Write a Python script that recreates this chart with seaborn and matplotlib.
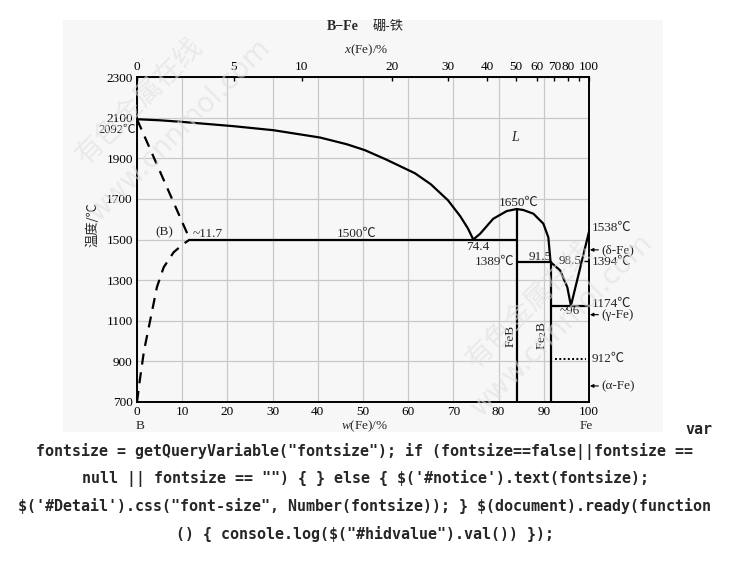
import numpy as np
import pandas as pd
import matplotlib
matplotlib.use("Agg")
import matplotlib.pyplot as plt
from matplotlib.patches import Rectangle
import seaborn as sns

# ---------------- data ----------------
liq_B_w = [0, 5, 10, 21.3, 30.2, 40.5, 46.4, 50.4, 55, 61.5, 65, 68.8, 71.5, 73.2, 74.4]
liq_B_T = [2092, 2087, 2079, 2058, 2038, 2002, 1969, 1940, 1895, 1826, 1772, 1693, 1615, 1555, 1500]

dome_w = [74.4, 75.9, 78.8, 81.8, 84.0, 85.5, 87.7, 89.9, 91.0, 91.5]
dome_T = [1500, 1528, 1602, 1640, 1650, 1645, 1627, 1578, 1511, 1389]

liq_Fe2_w = [91.5, 93.6, 95.2, 96.0]
liq_Fe2_T = [1389, 1348, 1265, 1174]

liq_Fe_w = [96.0, 100.0]
liq_Fe_T = [1174, 1538]

dash_top_w = [0, 11.7]
dash_top_T = [2092, 1500]
dash_bot_w = [0, 0.6, 1.55, 2.9, 4.4, 5.9, 8.1, 10.3, 11.7]
dash_bot_T = [700, 804, 952, 1100, 1265, 1363, 1437, 1479, 1500]

feb_w = 84.0
fe2b_w = 91.5
eut1_T = 1500
eut2_T = 1389
eut3_T = 1174
mag_T = 912
peak_T = 1650
bottom_T = 700

x_ticks_at = [0, 5, 10, 20, 30, 40, 50, 60, 70, 80, 90, 100]
x_tick_labels = ["0", "5", "10", "20", "30", "40", "50", "60", "70", "80", "", "100"]
w_ticks = list(range(0, 101, 10))
T_ticks = [700, 900, 1100, 1300, 1500, 1700, 1900, 2100, 2300]

M_FE, M_B = 55.845, 10.81

js_lines = [
    'fontsize = getQueryVariable("fontsize"); if (fontsize==false||fontsize ==',
    'null || fontsize == "") { } else { $(\'#notice\').text(fontsize);',
    '$(\'#Detail\').css("font-size", Number(fontsize)); } $(document).ready(function',
    '() { console.log($("#hidvalue").val()) });',
]

# ---------------- style ----------------
sns.set_theme(style="white")
plt.rcParams["font.family"] = ["Liberation Serif", "Noto Sans CJK SC"]
plt.rcParams["mathtext.fontset"] = "custom"
plt.rcParams["mathtext.rm"] = "Liberation Serif"
plt.rcParams["mathtext.it"] = "Liberation Serif:italic"
plt.rcParams["mathtext.bf"] = "Liberation Serif:bold"

W, H = 730, 579
fig = plt.figure(figsize=(W / 100, H / 100), dpi=100)
fig.patch.set_facecolor("white")

# scanned-image background panel
fig.patches.append(Rectangle((63 / W, 1 - 432 / H), 600 / W, 412 / H,
                             transform=fig.transFigure, facecolor="#f7f7f7",
                             edgecolor="none", zorder=-10))

ax = fig.add_axes([137 / W, 1 - 402 / H, 452 / W, 325 / H])
ax.set_zorder(1)
ax.set_facecolor("#f7f7f7")

gridc = "#c9c9c9"
lc = "black"
lw = 1.6

def curve(w, T, **kw):
    df = pd.DataFrame({"w": w, "T": T})
    sns.lineplot(data=df, x="w", y="T", sort=False, estimator=None,
                 color=kw.pop("color", lc), lw=kw.pop("lw", lw), ax=ax, **kw)

curve(liq_B_w, liq_B_T)
curve(dome_w, dome_T)
curve(liq_Fe2_w, liq_Fe2_T)
curve(liq_Fe_w, liq_Fe_T)
curve(dash_top_w, dash_top_T, linestyle=(0, (5, 3.5)))
curve(dash_bot_w, dash_bot_T, linestyle=(0, (5, 3.5)))
curve([11.7, feb_w], [eut1_T, eut1_T])
curve([feb_w, feb_w], [peak_T, bottom_T])
curve([feb_w, fe2b_w], [eut2_T, eut2_T])
curve([fe2b_w, fe2b_w], [eut2_T, bottom_T])
curve([fe2b_w, 100], [eut3_T, eut3_T])
curve([92.5, 99.3], [mag_T, mag_T], linestyle=(0, (1, 1.2)), lw=1.4)
curve([99.0, 100], [1394, 1394], lw=1.0)

ax.set_xlabel("")
ax.set_ylabel("")
ax.set_xlim(0, 100)
ax.set_ylim(700, 2300)
ax.set_xticks(w_ticks)
ax.set_yticks(T_ticks)
ax.set_xticklabels([str(v) for v in w_ticks])
ax.set_yticklabels([str(v) for v in T_ticks])
ax.grid(True, color=gridc, lw=0.9)
ax.set_axisbelow(True)
ax.tick_params(axis="both", length=0, labelsize=9.5, pad=3, colors="black")
for s in ax.spines.values():
    s.set_color("black")
    s.set_linewidth(1.4)

# ---------------- top axis x(Fe) at% ----------------
def at_to_wt(x):
    x = np.asarray(x, dtype=float)
    return x * M_FE / (x * M_FE + (100 - x) * M_B) * 100

ax2 = ax.twiny()
ax2.set_xlim(0, 100)
ax2.set_xticks(at_to_wt(x_ticks_at))
ax2.set_xticklabels(x_tick_labels)
ax2.tick_params(axis="x", direction="in", length=3, width=1, labelsize=9.5,
                pad=3, colors="black")
ax2.grid(False)
for s in ax2.spines.values():
    s.set_visible(False)

# ---------------- annotations ----------------
fs = 9.5
ax.text(6.0, 1535, "(B)", fontsize=fs, ha="center", va="center")
ax.text(12.3, 1527, "~11.7", fontsize=fs, ha="left", va="center")
ax.text(44.2, 1527, "1500℃", fontsize=fs, ha="left", va="center")
ax.text(75.3, 1465, "74.4", fontsize=fs, ha="center", va="center")
ax.text(84.5, 1682, "1650℃", fontsize=fs, ha="center", va="center")
ax.text(83.6, 1389, "1389℃", fontsize=fs, ha="right", va="center")
ax.text(89.2, 1412, "91.5", fontsize=fs, ha="center", va="center")
ax.text(95.8, 1392, "98.5", fontsize=fs, ha="center", va="center")
ax.text(95.8, 1148, "~96", fontsize=fs, ha="center", va="center")
ax.text(83.6, 2000, "L", fontsize=10, ha="center", va="center", style="italic")
ax.text(82.6, 1026, "FeB", fontsize=fs, ha="center", va="center", rotation=90)
ax.text(89.6, 1026, r"Fe$_2$B", fontsize=fs, ha="center", va="center", rotation=90)

ax.text(100.6, 1555, "1538℃", fontsize=fs, ha="left", va="center", clip_on=False)
ax.text(100.6, 1392, "1394℃", fontsize=fs, ha="left", va="center", clip_on=False)
ax.text(100.6, 1185, "1174℃", fontsize=fs, ha="left", va="center", clip_on=False)
ax.text(100.6, 911, "912℃", fontsize=fs, ha="left", va="center", clip_on=False)
for T, lab in [(1449, "(δ-Fe)"), (1130, "(γ-Fe)"), (779, "(α-Fe)")]:
    ax.annotate(lab, xy=(100.2, T), xytext=(102.8, T), fontsize=fs,
                ha="left", va="center", annotation_clip=False,
                arrowprops=dict(arrowstyle="-|>", color="black", lw=0.8,
                                mutation_scale=5, shrinkA=0, shrinkB=0))

ax.text(-0.3, 2040, "2092℃", fontsize=9, ha="right", va="center", clip_on=False)

# titles
fig.text(343 / W, 1 - 26 / H, "B−Fe", fontsize=10, fontweight="bold",
         ha="center", va="center")
fig.text(388 / W, 1 - 26 / H, "硼-铁", fontsize=9.5, ha="center", va="center",
         family=["Noto Sans CJK SC"])
fig.text(366 / W, 1 - 50 / H, r"$\mathit{x}$(Fe)/%", fontsize=9.5,
         ha="center", va="center")
fig.text(365 / W, 1 - 426 / H, r"$\mathit{w}$(Fe)/%", fontsize=9.5,
         ha="center", va="center")
fig.text(140 / W, 1 - 426 / H, "B", fontsize=9.5, ha="center", va="center")
fig.text(586 / W, 1 - 426 / H, "Fe", fontsize=9.5, ha="center", va="center")
fig.text(93 / W, 1 - 225 / H, "温度/℃", fontsize=9.5, ha="center", va="center",
         rotation=90, family=["Noto Sans CJK SC"])

# watermarks (faint)
wm = "#e0e0e0"
for (cx, cy, s, fam) in [(140, 101, "有色金属在线", "Noto Sans CJK SC"),
                         (180, 130, "www.cnnmol.com", "DejaVu Sans"),
                         (530, 305, "有色金属在线", "Noto Sans CJK SC"),
                         (562, 325, "www.cnnmol.com", "DejaVu Sans")]:
    fig.text(cx / W, 1 - cy / H, s, fontsize=20, rotation=45, color=wm,
             ha="center", va="center", family=[fam], alpha=0.6, zorder=5)

# page text below the image
mono = ["DejaVu Sans Mono"]
fig.text(699 / W, 1 - 430 / H, "var", fontsize=10.8, fontweight="bold",
         ha="center", va="center", family=mono, parse_math=False)
for i, line in enumerate(js_lines):
    y = 451 + 27.5 * i
    fig.text(365 / W, 1 - y / H, line, fontsize=10.8, fontweight="bold",
             ha="center", va="center", family=mono, parse_math=False)

fig.savefig("out.png", dpi=100, facecolor="white")
